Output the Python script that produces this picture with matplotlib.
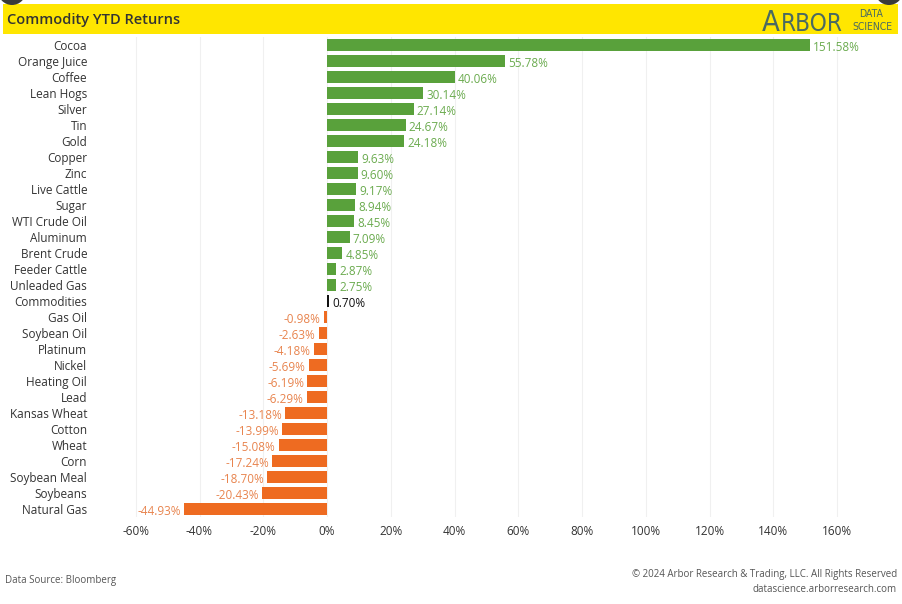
import matplotlib as mpl
import matplotlib.pyplot as plt
import matplotlib.patches as mpatches
import matplotlib.ticker as mticker

mpl.rcParams.update({
    'font.family': ['Open Sans', 'DejaVu Sans'],
    'font.size': 8.5,
})

COMMODITIES = [
    'Cocoa', 'Orange Juice', 'Coffee', 'Lean Hogs', 'Silver', 'Tin', 'Gold',
    'Copper', 'Zinc', 'Live Cattle', 'Sugar', 'WTI Crude Oil', 'Aluminum',
    'Brent Crude', 'Feeder Cattle', 'Unleaded Gas', 'Commodities', 'Gas Oil',
    'Soybean Oil', 'Platinum', 'Nickel', 'Heating Oil', 'Lead',
    'Kansas Wheat', 'Cotton', 'Wheat', 'Corn', 'Soybean Meal', 'Soybeans',
    'Natural Gas',
]
RETURNS = [
    151.58, 55.78, 40.06, 30.14, 27.14, 24.67, 24.18,
    9.63, 9.60, 9.17, 8.94, 8.45, 7.09,
    4.85, 2.87, 2.75, 0.70, -0.98,
    -2.63, -4.18, -5.69, -6.19, -6.29,
    -13.18, -13.99, -15.08, -17.24, -18.70, -20.43,
    -44.93,
]
TICKS = [-60, -40, -20, 0, 20, 40, 60, 80, 100, 120, 140, 160]

GREEN = '#59a13b'
GREEN_TXT = '#6bab4f'
ORANGE = '#ee6b21'
ORANGE_TXT = '#e8844e'
TXT = '#333333'
LOGO = '#4a6a62'

W, H = 902, 604
fig = plt.figure(figsize=(W / 100, H / 100), dpi=100)


def px(x0, y0, x1, y1):
    # pixel box -> figure fraction rect
    return [x0 / W, 1 - y1 / H, (x1 - x0) / W, (y1 - y0) / H]


# header band
fig.patches.append(mpatches.Rectangle((3 / W, 1 - 34 / H), 895 / W, 30 / H,
                                      transform=fig.transFigure,
                                      facecolor='#ffe600', edgecolor='none',
                                      zorder=0))
for cx in (12, 889):
    fig.patches.append(mpatches.Ellipse((cx / W, 1 + 9 / H), 28 / W, 28 / H,
                                        transform=fig.transFigure,
                                        facecolor='#3a3a3a', edgecolor='none',
                                        zorder=0))
fig.text(7 / W, 1 - 20 / H, 'Commodity YTD Returns', fontsize=10.5,
         fontweight='semibold', color='#333333', ha='left', va='center')

# logo, small caps style
logo = dict(color=LOGO, family=['DejaVu Sans'], fontstretch='condensed')
fig.text(762 / W, 1 - 31 / H, 'A', fontsize=21, ha='left', va='baseline',
         **logo)
fig.text(843 / W, 1 - 31 / H, 'RBOR', fontsize=17.5, ha='right',
         va='baseline', **logo)
fig.text(871 / W, 1 - 14 / H, 'DATA', fontsize=7.5, ha='center',
         va='center', **logo)
fig.text(872 / W, 1 - 26.5 / H, 'SCIENCE', fontsize=7.5, ha='center',
         va='center', **logo)

ax = fig.add_axes(px(115, 37, 897, 517))
x0_px, scale = 327, (837 - 327) / 160.0
ax.set_xlim((115 - x0_px) / scale, (897 - x0_px) / scale)
ax.set_ylim(len(COMMODITIES) - 0.5, -0.5)

ys = list(range(len(COMMODITIES)))
colors, tcolors = [], []
for name, v in zip(COMMODITIES, RETURNS):
    if name == 'Commodities':
        colors.append('#111111')
        tcolors.append('#111111')
    elif v >= 0:
        colors.append(GREEN)
        tcolors.append(GREEN_TXT)
    else:
        colors.append(ORANGE)
        tcolors.append(ORANGE_TXT)

ax.barh(ys, RETURNS, height=0.76, color=colors, zorder=3)
for y, v, tc in zip(ys, RETURNS, tcolors):
    if v >= 0:
        ax.text(v + 1.0, y + 0.13, f'{v:.2f}%', color=tc, fontsize=8.5,
                ha='left', va='center')
    else:
        ax.text(v - 1.0, y + 0.13, f'{v:.2f}%', color=tc, fontsize=8.5,
                ha='right', va='center')

ax.set_yticks(ys)
ax.set_yticklabels(COMMODITIES, color=TXT, fontsize=8.5)
ax.set_xticks(TICKS)
ax.xaxis.set_major_formatter(mticker.FuncFormatter(lambda v, p: f'{v:.0f}%'))
ax.tick_params(axis='x', length=0, pad=6, labelsize=8.5, labelcolor=TXT)
ax.tick_params(axis='y', length=0, pad=20)
ax.grid(axis='x', color='#f0f0f0', linewidth=0.8, zorder=0)
for sp in ax.spines.values():
    sp.set_visible(False)

fig.text(5 / W, 1 - 581 / H, 'Data Source: Bloomberg', fontsize=7,
         color='#555555', ha='left', va='center')
fig.text(897 / W, 1 - 575 / H,
         '\u00a9 2024 Arbor Research & Trading, LLC. All Rights Reserved',
         fontsize=7, color='#555555', ha='right', va='center')
fig.text(897 / W, 1 - 589 / H, 'datascience.arborresearch.com', fontsize=7,
         color='#555555', ha='right', va='center')

fig.savefig('out.png', dpi=100)
